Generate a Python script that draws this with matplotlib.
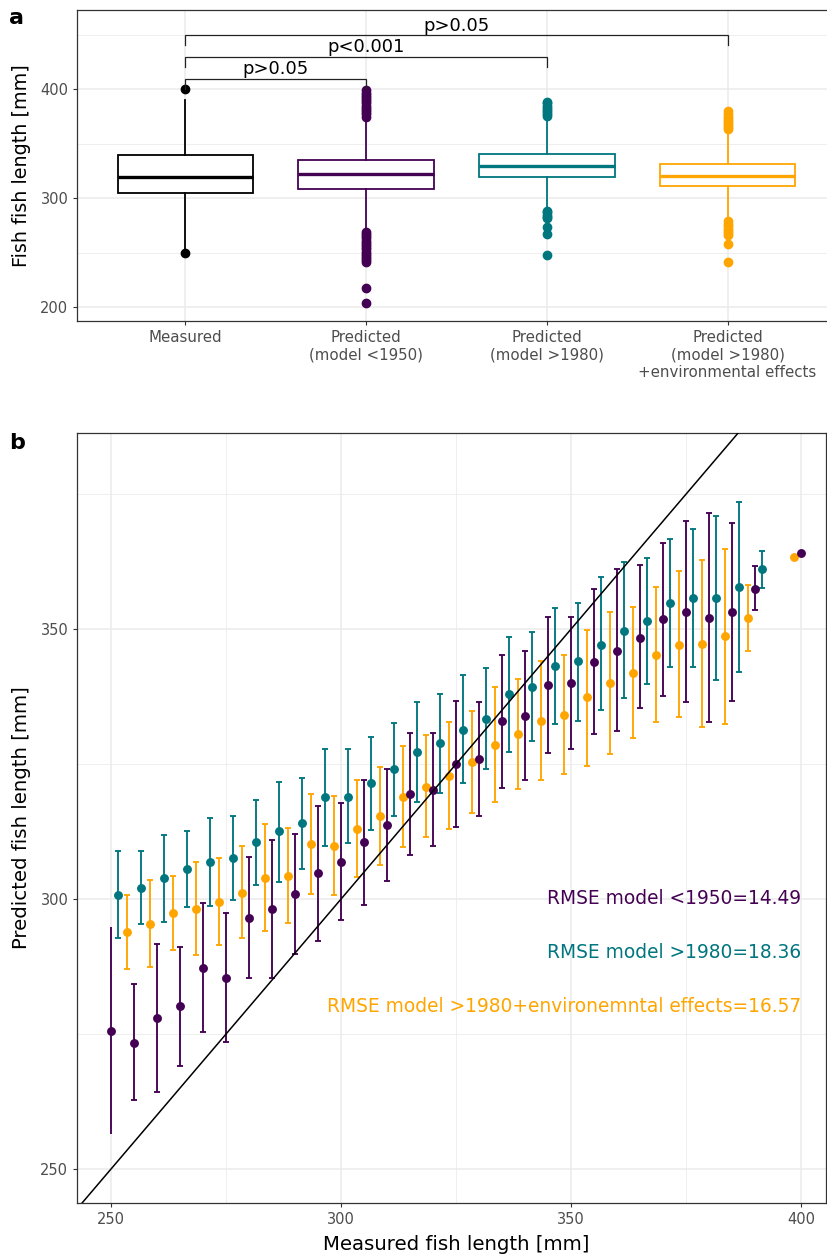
import numpy as np
import matplotlib
matplotlib.use("Agg")
import matplotlib.pyplot as plt
from matplotlib.ticker import FixedLocator

plt.rcParams['font.family'] = ['DejaVu Sans']

# ---------------- Panel a data ----------------
groups = ["Measured", "Predicted\n(model <1950)", "Predicted\n(model >1980)",
          "Predicted\n(model >1980)\n+environmental effects"]
box_q1 = [304.6, 308.9, 319.3, 311.0]
box_med = [319.5, 322.0, 329.6, 320.8]
box_q3 = [339.4, 335.1, 340.4, 331.5]
whisk_lo = [253.0, 270.6, 291.0, 282.8]
whisk_hi = [390.2, 371.6, 373.0, 359.6]
outliers_measured = [249.5, 400.0]
outliers_m1950 = [203.7, 217.4, 241.3, 243.0, 245.0, 247.0, 249.0, 251.0, 253.0, 255.0,
                  257.0, 259.0, 261.0, 263.0, 265.0, 267.0, 269.0,
                  375.0, 377.0, 379.0, 381.0, 383.0, 385.0, 387.0, 389.0, 391.0,
                  393.0, 395.0, 397.0, 399.0]
outliers_m1980 = [247.7, 266.9, 273.4, 281.5, 283.0, 285.0, 287.0, 288.6,
                  375.2, 377.0, 379.0, 381.0, 383.0, 385.0, 387.0, 388.6]
outliers_env = [241.0, 258.3, 266.0, 268.0, 270.0, 272.0, 274.0, 276.0, 278.6,
                363.3, 365.0, 367.0, 369.0, 371.0, 373.0, 375.0, 377.0, 379.8]
sig_pairs = [(0, 1), (0, 2), (0, 3)]
sig_heights = [409.2, 429.4, 449.5]
sig_labels = ["p>0.05", "p<0.001", "p>0.05"]

# ---------------- Panel b data ----------------
bins_m1950 = [250, 255, 260, 265, 270, 275, 280, 285, 290, 295, 300, 305, 310, 315, 320,
              325, 330, 335, 340, 345, 350, 355, 360, 365, 370, 375, 380, 385, 390, 400]
mean_m1950 = [275.6, 273.3, 277.9, 280.1, 287.2, 285.4, 296.5, 298.1, 300.9, 304.8,
              306.9, 310.6, 313.7, 319.4, 320.2, 325.0, 325.9, 332.9, 333.9, 339.7,
              340.0, 343.8, 346.0, 348.4, 351.8, 353.2, 352.1, 353.2, 357.4, 364.1]
lo_m1950 = [256.4, 262.8, 264.3, 269.0, 275.3, 273.5, 285.4, 285.4, 289.9, 292.3,
            296.1, 298.9, 303.3, 308.2, 309.9, 313.3, 315.4, 320.5, 322.0, 327.0,
            327.7, 330.5, 331.2, 335.4, 337.6, 336.5, 332.8, 336.7, 353.6, np.nan]
hi_m1950 = [294.9, 284.2, 291.6, 291.2, 299.3, 297.4, 307.7, 310.9, 312.1, 317.3,
            317.7, 322.1, 324.0, 330.7, 330.7, 336.6, 336.5, 345.2, 345.9, 352.3,
            352.3, 357.5, 361.1, 361.8, 366.0, 370.0, 371.4, 369.7, 361.6, np.nan]

bins_m1980 = [250, 255, 260, 265, 270, 275, 280, 285, 290, 295, 300, 305, 310, 315, 320,
              325, 330, 335, 340, 345, 350, 355, 360, 365, 370, 375, 380, 385, 390]
mean_m1980 = [300.8, 302.1, 303.8, 305.6, 306.9, 307.5, 310.5, 312.5, 314.0, 318.8,
              318.9, 321.4, 324.0, 327.2, 328.8, 331.3, 333.3, 337.9, 339.3, 343.1,
              344.0, 347.1, 349.7, 351.4, 354.8, 355.7, 355.8, 357.8, 361.2]
lo_m1980 = [292.8, 295.4, 295.7, 298.6, 298.7, 299.8, 302.5, 303.2, 305.6, 309.9,
            310.3, 312.8, 315.4, 317.9, 319.6, 321.4, 324.0, 327.2, 329.3, 332.4,
            333.0, 335.0, 337.2, 339.9, 343.0, 343.0, 340.6, 342.1, 357.6]
hi_m1980 = [308.9, 308.9, 311.9, 312.5, 315.0, 315.4, 318.4, 321.7, 322.4, 327.7,
            327.7, 330.0, 332.6, 336.5, 338.0, 341.4, 342.8, 348.5, 349.4, 353.8,
            354.9, 359.6, 362.5, 363.1, 366.7, 368.6, 371.0, 373.6, 364.5]

bins_env = [255, 260, 265, 270, 275, 280, 285, 290, 295, 300, 305, 310, 315, 320,
            325, 330, 335, 340, 345, 350, 355, 360, 365, 370, 375, 380, 385, 390, 400]
mean_env = [293.8, 295.4, 297.4, 298.1, 299.5, 301.2, 303.9, 304.3, 310.2, 309.8,
            313.0, 315.3, 318.9, 320.7, 322.8, 325.4, 328.6, 330.5, 333.0, 334.1,
            337.5, 340.0, 341.9, 345.2, 347.1, 347.2, 348.7, 352.1, 363.4]
lo_env = [287.0, 287.4, 290.5, 289.6, 291.5, 292.8, 294.0, 295.6, 301.0, 300.7,
          304.1, 306.3, 309.6, 311.4, 312.9, 315.9, 318.0, 320.3, 322.0, 323.1,
          324.6, 326.9, 329.9, 332.8, 333.7, 331.9, 332.5, 346.0, np.nan]
hi_env = [300.7, 303.5, 304.3, 306.8, 307.5, 309.9, 313.9, 313.1, 319.5, 319.0,
          322.0, 324.4, 328.3, 330.3, 332.8, 334.9, 339.3, 340.8, 344.0, 345.2,
          349.9, 353.1, 354.0, 357.8, 360.7, 362.7, 364.9, 358.2, np.nan]

rmse_labels = ["RMSE model <1950=14.49", "RMSE model >1980=18.36",
               "RMSE model >1980+environemntal effects=16.57"]
rmse_y = [300, 290, 280]
rmse_x = 400

# ---------------- Styling ----------------
PURPLE = "#440154"
TEAL = "#00767F"
ORANGE = "#FFA500"
BLACK = "#000000"
box_colors = [BLACK, PURPLE, TEAL, ORANGE]
GRID = "#EBEBEB"
BORDER = "#333333"
TICKTXT = "#4D4D4D"

W, H = 828, 1256
fig = plt.figure(figsize=(W / 100, H / 100), dpi=100)


def px_axes(left, top, right, bottom):
    return fig.add_axes([left / W, 1 - bottom / H, (right - left) / W, (bottom - top) / H])


def style_axes(ax):
    ax.set_facecolor("white")
    for s in ax.spines.values():
        s.set_color(BORDER)
        s.set_linewidth(0.9)
    ax.tick_params(which="major", length=2.75, width=0.8, color=BORDER,
                   labelcolor=TICKTXT, labelsize=10.5, pad=3.5)
    ax.tick_params(which="minor", length=0)
    ax.grid(which="major", color=GRID, linewidth=1.1)
    ax.grid(which="minor", color=GRID, linewidth=0.55)
    ax.set_axisbelow(True)


# ---------------- Panel a ----------------
axa = px_axes(77, 10, 836, 321.3)
style_axes(axa)
positions = np.arange(1, len(groups) + 1)
all_out = [outliers_measured, outliers_m1950, outliers_m1980, outliers_env]
for i, pos in enumerate(positions):
    stats = [dict(med=box_med[i], q1=box_q1[i], q3=box_q3[i],
                  whislo=whisk_lo[i], whishi=whisk_hi[i], fliers=all_out[i])]
    c = box_colors[i]
    axa.bxp(stats, positions=[pos], widths=0.75, showcaps=False, patch_artist=True,
            boxprops=dict(facecolor="white", edgecolor=c, linewidth=1.3),
            medianprops=dict(color=c, linewidth=2.4),
            whiskerprops=dict(color=c, linewidth=1.3),
            flierprops=dict(marker="o", markerfacecolor=c, markeredgecolor=c,
                            markersize=6, linestyle="none"),
            manage_ticks=False)

tip = 9.0
for (g1, g2), h, lab in zip(sig_pairs, sig_heights, sig_labels):
    x1, x2 = positions[g1], positions[g2]
    axa.plot([x1, x1, x2, x2], [h - tip, h, h, h - tip], color="#222222", lw=0.9,
             solid_joinstyle="miter")
    axa.text((x1 + x2) / 2, h + 0.8, lab, ha="center", va="bottom", fontsize=13,
             color="black")

axa.set_xlim(0.4, 4.6)
axa.set_ylim(186.9, 472.9)
axa.xaxis.set_major_locator(FixedLocator(positions))
axa.set_xticklabels(groups)
axa.yaxis.set_major_locator(FixedLocator([200, 300, 400]))
axa.yaxis.set_minor_locator(FixedLocator([250, 350, 450]))
axa.xaxis.set_minor_locator(FixedLocator([]))
for t in axa.get_xticklabels():
    t.set_linespacing(1.22)
    t.set_fontsize(10.8)
fig.text(22 / W, 1 - 165.5 / H, "Fish fish length [mm]", rotation=90,
         ha="center", va="center", fontsize=13.8)
fig.text(17 / W, 1 - 18 / H, "a", fontsize=16, fontweight="bold", ha="center", va="center")

# ---------------- Panel b ----------------
axb = px_axes(77, 433, 826, 1203)
style_axes(axb)
dodge = {"env": -1.5, "m1950": 0.0, "m1980": 1.5}

series = [
    ("env", bins_env, mean_env, lo_env, hi_env, ORANGE),
    ("m1950", bins_m1950, mean_m1950, lo_m1950, hi_m1950, PURPLE),
    ("m1980", bins_m1980, mean_m1980, lo_m1980, hi_m1980, TEAL),
]
for key, b, m, lo, hi, c in series:
    x = np.asarray(b, float) + dodge[key]
    m = np.asarray(m, float)
    lo = np.asarray(lo, float)
    hi = np.asarray(hi, float)
    has_bar = ~np.isnan(lo)
    nocap = (np.asarray(b) == 250) & (key == "m1950")
    capped = has_bar & ~nocap
    axb.errorbar(x[capped], m[capped], yerr=[m[capped] - lo[capped], hi[capped] - m[capped]],
                 fmt="none", ecolor=c, capsize=2.5, elinewidth=1.35, capthick=1.35,
                 zorder=3)
    if nocap.any():
        axb.errorbar(x[nocap], m[nocap], yerr=[m[nocap] - lo[nocap], hi[nocap] - m[nocap]],
                     fmt="none", ecolor=c, capsize=0, elinewidth=1.35, zorder=3)
    axb.plot(x, m, "o", color=c, ms=6.4, markeredgewidth=0, zorder=3.5)

axb.axline((250, 250), slope=1, color="black", lw=1.1, zorder=4)

rmse_colors = [PURPLE, TEAL, ORANGE]
for lab, yv, c in zip(rmse_labels, rmse_y, rmse_colors):
    axb.text(rmse_x, yv, lab, ha="right", va="center", fontsize=13.4, color=c)

axb.set_xlim(242.6, 405.4)
axb.set_ylim(243.7, 386.3)
axb.xaxis.set_major_locator(FixedLocator([250, 300, 350, 400]))
axb.xaxis.set_minor_locator(FixedLocator([275, 325, 375]))
axb.yaxis.set_major_locator(FixedLocator([250, 300, 350]))
axb.yaxis.set_minor_locator(FixedLocator([275, 325, 375]))
fig.text(456 / W, 1 - 1245 / H, "Measured fish length [mm]", ha="center", va="center",
         fontsize=14.2)
fig.text(22 / W, 1 - 818 / H, "Predicted fish length [mm]", rotation=90,
         ha="center", va="center", fontsize=14.2)
fig.text(17 / W, 1 - 443 / H, "b", fontsize=16, fontweight="bold", ha="center", va="center")

fig.savefig("out.png", dpi=100)
